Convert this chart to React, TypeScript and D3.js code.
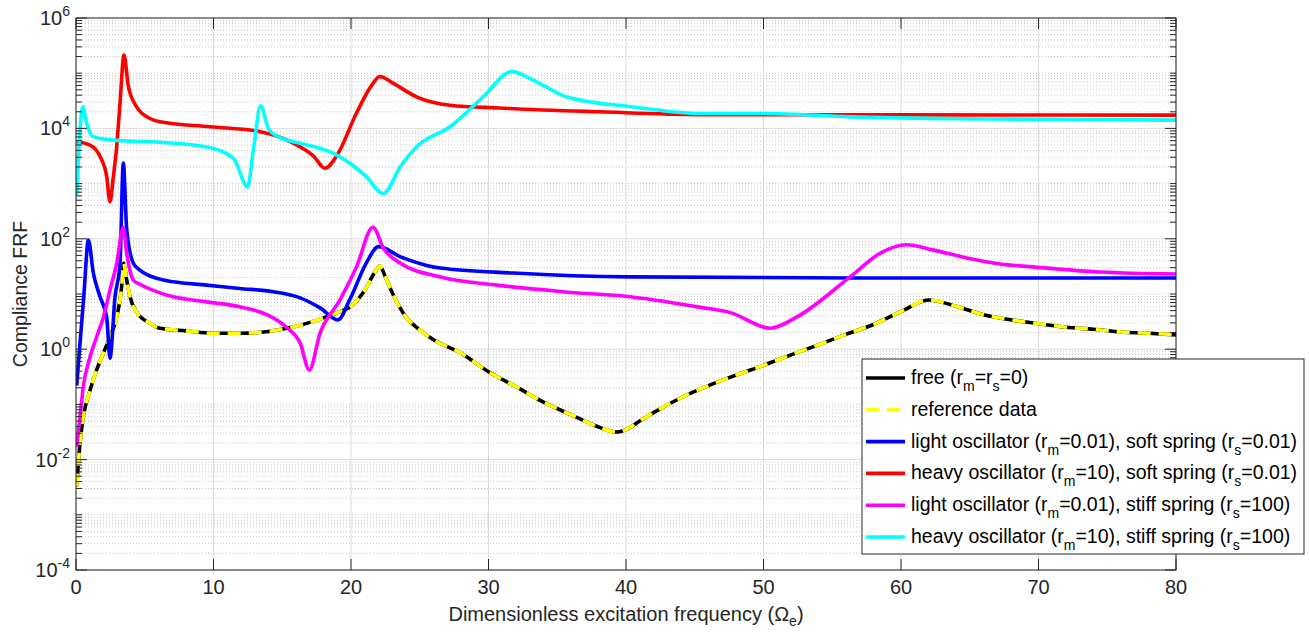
import React from "react";
import * as d3 from "d3";

// ---------- data ----------
const xTicks = [0, 10, 20, 30, 40, 50, 60, 70, 80];
const yTickExps = [-4, -2, 0, 2, 4, 6];

const freeX = [0.05, 0.29, 0.53, 1.02, 1.5, 1.99, 2.47, 2.96, 3.32, 3.46, 3.69, 3.93, 4.41, 5.38, 6.1, 8, 10, 12, 14, 16, 18, 19, 20, 21, 21.7, 22.1, 22.5, 23, 24, 25, 26, 28, 30, 32, 34, 36, 38, 39.3, 40, 41, 42, 44, 46, 48, 50, 52, 54, 56, 58, 60, 62, 64, 66, 68, 70, 72, 74, 76, 78, 80];
const freeY = [0.0032, 0.02, 0.059, 0.18, 0.42, 0.85, 1.66, 3.8, 13.5, 36, 17.8, 8.9, 4.7, 2.95, 2.4, 2.15, 1.95, 1.95, 2.1, 2.6, 3.7, 4.6, 6.0, 11.7, 24, 32, 20.4, 10.5, 3.8, 2.24, 1.48, 0.85, 0.39, 0.21, 0.11, 0.065, 0.039, 0.0316, 0.035, 0.05, 0.071, 0.132, 0.219, 0.339, 0.51, 0.79, 1.2, 1.86, 2.8, 4.8, 7.8, 6.0, 4.2, 3.4, 2.9, 2.5, 2.3, 2.05, 1.95, 1.82];

const refX = freeX;
const refY = freeY;

const lightSoftX = [0.05, 0.29, 0.58, 0.9, 1.26, 1.75, 2.23, 2.47, 2.84, 3.2, 3.44, 3.69, 4.17, 4.65, 6.1, 7.08, 9.5, 11.9, 14.35, 16.3, 17.75, 19.05, 19.9, 21.1, 22.0, 23.6, 25.5, 26.5, 31.8, 40.3, 56.3, 80];
const lightSoftY = [0.22, 1.26, 10, 95, 24, 8.9, 3.8, 0.69, 8.9, 36, 2350, 145, 36, 27, 18.6, 16.6, 14.5, 12.6, 11, 8.5, 5.6, 3.4, 7.8, 36, 72, 47, 33, 29.5, 24, 20.4, 19.5, 19.5];

const heavySoftX = [0.05, 1.02, 1.75, 2.23, 2.47, 2.72, 2.96, 3.2, 3.49, 3.81, 4.41, 5.38, 6.1, 9.75, 13.4, 15.8, 17.3, 18.1, 19.0, 20.4, 21.5, 22.1, 23.05, 24.8, 27.2, 30.8, 38.1, 45.4, 60, 80];
const heavySoftY = [5750, 5000, 3100, 1350, 470, 1350, 4700, 28000, 214000, 57500, 24500, 15100, 13200, 10700, 8700, 5400, 3100, 1900, 3300, 19000, 60000, 87000, 66000, 37000, 26300, 23400, 20000, 17800, 17600, 17400];

const lightStiffX = [0.05, 0.29, 0.53, 1.02, 1.5, 1.99, 2.47, 2.96, 3.44, 3.69, 4.17, 4.65, 6.1, 7.08, 9.5, 11.9, 13.9, 15.3, 16.3, 16.97, 17.75, 19.2, 20.4, 21.6, 22.35, 23.6, 26.5, 30.6, 35.4, 40.3, 45.1, 47.6, 50.5, 52.4, 56.3, 58.5, 60.4, 62.3, 64.8, 67.2, 69.6, 74.5, 80];
const lightStiffY = [0.017, 0.059, 0.21, 0.72, 1.66, 3.8, 11.7, 36, 160, 55, 17.8, 15, 10.5, 8.9, 7.2, 5.9, 4.2, 2.5, 1.29, 0.42, 1.95, 7.8, 31, 162, 68, 36, 20.4, 14.5, 11, 8.9, 5.9, 4.6, 2.4, 3.8, 20.4, 55, 78, 63, 45, 35, 31, 25, 23];

const heavyStiffX = [0.05, 0.29, 0.49, 0.78, 1.26, 2.47, 6.1, 9.5, 11.44, 12.48, 12.9, 13.43, 14.0, 14.84, 16.3, 18.7, 21.1, 22.35, 23.6, 24.8, 27.2, 29.6, 31.7, 33.2, 35.7, 40.5, 45.4, 50, 56.3, 67, 80];
const heavyStiffY = [620, 9300, 24500, 12300, 7100, 6200, 5600, 4600, 2900, 870, 4100, 25700, 9800, 6800, 5400, 3550, 1350, 660, 2050, 4700, 10700, 37000, 107000, 76000, 37000, 24500, 18600, 18600, 16200, 14800, 14100];

type Seg = [string, boolean];
const legendLabels: Seg[][] = [
  [["free (r", false], ["m", true], ["=r", false], ["s", true], ["=0)", false]],
  [["reference data", false]],
  [["light oscillator (r", false], ["m", true], ["=0.01), soft spring (r", false], ["s", true], ["=0.01)", false]],
  [["heavy oscillator (r", false], ["m", true], ["=10), soft spring (r", false], ["s", true], ["=0.01)", false]],
  [["light oscillator (r", false], ["m", true], ["=0.01), stiff spring (r", false], ["s", true], ["=100)", false]],
  [["heavy oscillator (r", false], ["m", true], ["=10), stiff spring (r", false], ["s", true], ["=100)", false]],
];

// ---------- layout ----------
const W = 1309, H = 632;
const L = 76, R = 1176, T = 18, B = 570;
const FONT = "'Liberation Sans', Arial, Helvetica, sans-serif";
const AX = "#262626";

export default function App() {
  const x = d3.scaleLinear().domain([0, 80]).range([L, R]);
  const y = d3.scaleLog().domain([1e-4, 1e6]).range([B, T]);

  const line = (xs: number[], ys: number[]) =>
    d3
      .line<number>()
      .x((_, i) => x(xs[i]))
      .y((_, i) => y(ys[i]))
      .curve(d3.curveMonotoneX)(ys) as string;

  const series = [
    { xs: freeX, ys: freeY, color: "#000000", dash: undefined as string | undefined },
    { xs: refX, ys: refY, color: "#ffff00", dash: "13 8" },
    { xs: lightSoftX, ys: lightSoftY, color: "#0000ff", dash: undefined },
    { xs: heavySoftX, ys: heavySoftY, color: "#ff0000", dash: undefined },
    { xs: lightStiffX, ys: lightStiffY, color: "#ff00ff", dash: undefined },
    { xs: heavyStiffX, ys: heavyStiffY, color: "#00ffff", dash: undefined },
  ];

  const majorY = yTickExps.map((e) => Math.pow(10, e));
  const minorY: number[] = [];
  for (let e = -4; e < 6; e++) {
    for (let k = 1; k <= 9; k++) {
      if (k === 1 && e % 2 === 0) continue;
      minorY.push(k * Math.pow(10, e));
    }
  }

  const legX = 862, legY = 359, legW = 442, legH = 195;
  const rowY0 = 378, rowDy = 31.8;
  const LFS = 19.5, SFS = 14;

  return (
    <svg width={W} height={H} style={{ position: "absolute", left: 0, top: 0, background: "#fff" }} fontFamily={FONT}>
      <defs>
        <clipPath id="plotclip">
          <rect x={L} y={T} width={R - L} height={B - T} />
        </clipPath>
      </defs>
      <rect x={0} y={0} width={W} height={H} fill="#fff" />
      {/* minor grid */}
      {minorY.map((v, i) => (
        <line key={"mg" + i} x1={L} x2={R} y1={y(v)} y2={y(v)} stroke="#c4c4c4" strokeWidth={1} strokeDasharray="1 2" />
      ))}
      {/* major grid */}
      {majorY.map((v, i) => (
        <line key={"Mg" + i} x1={L} x2={R} y1={y(v)} y2={y(v)} stroke="#dcdcdc" strokeWidth={1} />
      ))}
      {xTicks.map((v, i) => (
        <line key={"xg" + i} x1={x(v)} x2={x(v)} y1={T} y2={B} stroke="#dcdcdc" strokeWidth={1} />
      ))}
      {/* series */}
      <g clipPath="url(#plotclip)">
        {series.map((s, i) => (
          <path
            key={"s" + i}
            d={line(s.xs, s.ys)}
            fill="none"
            stroke={s.color}
            strokeWidth={3.6}
            strokeDasharray={s.dash}
            strokeLinejoin="round"
          />
        ))}
      </g>
      {/* axes box */}
      <rect x={L} y={T} width={R - L} height={B - T} fill="none" stroke={AX} strokeWidth={1} />
      {/* x ticks */}
      {xTicks.map((v, i) => (
        <g key={"xt" + i}>
          <line x1={x(v)} x2={x(v)} y1={B} y2={B - 11} stroke={AX} />
          <line x1={x(v)} x2={x(v)} y1={T} y2={T + 11} stroke={AX} />
          <text x={x(v)} y={594} textAnchor="middle" fontSize={20} fill={AX}>
            {v}
          </text>
        </g>
      ))}
      {/* y ticks */}
      {majorY.map((v, i) => (
        <g key={"yt" + i}>
          <line x1={L} x2={L + 11} y1={y(v)} y2={y(v)} stroke={AX} />
          <line x1={R} x2={R - 11} y1={y(v)} y2={y(v)} stroke={AX} />
          <text x={L - 6} y={y(v) + 7} textAnchor="end" fontSize={20} fill={AX}>
            10
            <tspan fontSize={14} dy={-9}>
              {yTickExps[i]}
            </tspan>
          </text>
        </g>
      ))}
      {minorY.map((v, i) => (
        <g key={"ymt" + i}>
          <line x1={L} x2={L + 6} y1={y(v)} y2={y(v)} stroke={AX} />
          <line x1={R} x2={R - 6} y1={y(v)} y2={y(v)} stroke={AX} />
        </g>
      ))}
      {/* axis labels */}
      <text x={(L + R) / 2} y={621} textAnchor="middle" fontSize={20} fill={AX}>
        Dimensionless excitation frequency (Ω
        <tspan fontSize={14} dy={5}>e</tspan>
        <tspan dy={-5}>)</tspan>
      </text>
      <text transform={`translate(27, ${(T + B) / 2}) rotate(-90)`} textAnchor="middle" fontSize={19.5} fill={AX}>
        Compliance FRF
      </text>
      {/* legend */}
      <rect x={legX} y={legY} width={legW} height={legH} fill="#fff" stroke={AX} strokeWidth={1} />
      {series.map((s, i) => {
        const ry = rowY0 + i * rowDy;
        return (
          <g key={"lg" + i}>
            <line x1={866} x2={905} y1={ry} y2={ry} stroke={s.color} strokeWidth={3.6} strokeDasharray={s.dash} />
            <text x={911} y={ry + 6} fontSize={LFS} fill="#000">
              {legendLabels[i].map((seg, j) => {
                const prevSub = j > 0 && legendLabels[i][j - 1][1];
                const dy = seg[1] ? 7 : prevSub ? -7 : 0;
                return (
                  <tspan key={j} fontSize={seg[1] ? SFS : LFS} dy={dy}>
                    {seg[0]}
                  </tspan>
                );
              })}
            </text>
          </g>
        );
      })}
    </svg>
  );
}
